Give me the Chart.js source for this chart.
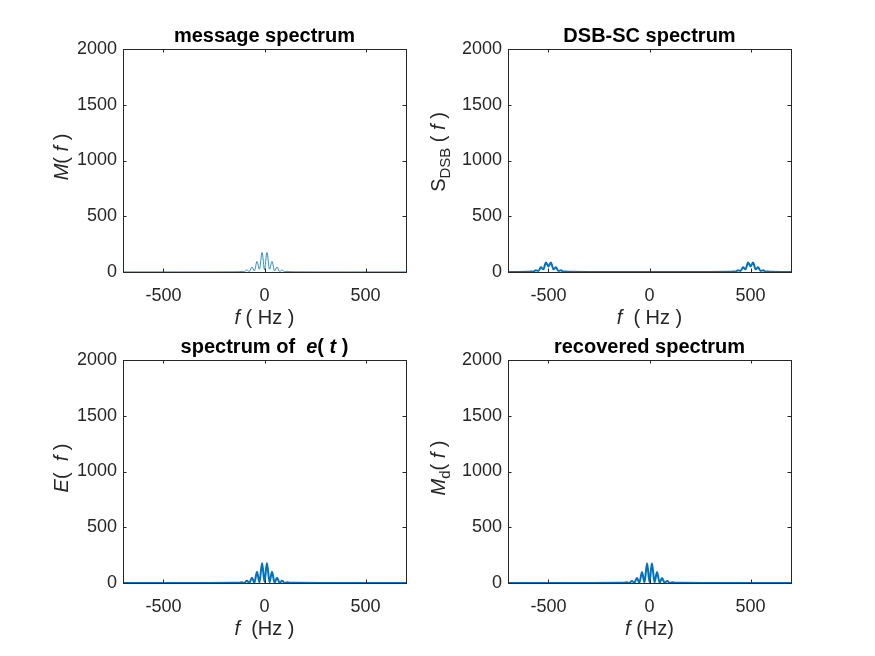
<!DOCTYPE html>
<html>
<head>
<meta charset="utf-8">
<script src="https://cdn.jsdelivr.net/npm/chart.js@4.4.1/dist/chart.umd.min.js"></script>
<style>
  html, body { margin: 0; padding: 0; background: #fff; width: 875px; height: 656px; overflow: hidden; }
  .pane { position: absolute; width: 437px; height: 328px; }
</style>
</head>
<body>
<div class="pane" style="left:0px;top:0px"><canvas id="msg" width="437" height="328"></canvas></div>
<div class="pane" style="left:385px;top:0px"><canvas id="dsb" width="437" height="328"></canvas></div>
<div class="pane" style="left:0px;top:311px"><canvas id="eSpec" width="437" height="328"></canvas></div>
<div class="pane" style="left:385px;top:311px"><canvas id="rec" width="437" height="328"></canvas></div>
<script>
// ---- data ----
const xTicks = [-500, 0, 500];
const yTicks = [0, 500, 1000, 1500, 2000];

// baseband frequency grid (Hz)
const freqBase = [-700, -300, -150, -125, -112, -100, -87, -75, -62, -50, -37, -25, -12, 0,
                  12, 25, 37, 50, 62, 75, 87, 100, 112, 125, 150, 300, 700];
const msgVals = [1, 1, 2, 3, 6, 2, 18, 4, 45, 10, 95, 25, 175, 20,
                 175, 25, 95, 10, 45, 4, 18, 2, 6, 3, 2, 1, 1];
const eVals   = [1, 1, 2, 3, 7, 1, 20, 2, 48, 3, 100, 5, 180, 10,
                 180, 5, 100, 3, 48, 2, 20, 1, 7, 3, 2, 1, 1];
const recVals = [1, 1, 2, 3, 6, 1, 18, 2, 45, 3, 98, 5, 178, 8,
                 178, 5, 98, 3, 45, 2, 18, 1, 6, 3, 2, 1, 1];

// DSB-SC grid (Hz), lobes around +-500
const freqDsb = [-700, -650, -600, -587, -575, -562, -550, -537, -525, -512, -500, -488, -475, -463,
                 -450, -438, -425, -413, -400, -300, 0, 300, 400, 413, 425, 438, 450, 463, 475, 488,
                 500, 512, 525, 537, 550, 562, 575, 587, 600, 650, 700];
const dsbVals = [1, 1, 2, 5, 3, 16, 9, 42, 24, 86, 50, 86, 24, 42,
                 9, 16, 3, 5, 2, 1, 1, 1, 2, 5, 3, 16, 9, 42, 24, 86,
                 50, 86, 24, 42, 9, 16, 3, 5, 2, 1, 1];

const FONT = '"Liberation Sans", Arial, Helvetica, sans-serif';
const AX = '#262626';
const BLUE = '#0072BD';

// draw a run of mixed italic / subscript text centred on (cx, cy)
function drawRuns(ctx, runs, cx, cy, size, bold, rotate, color) {
    ctx.save();
    ctx.translate(cx, cy);
    if (rotate) ctx.rotate(-Math.PI / 2);
    ctx.fillStyle = color;
    ctx.textBaseline = 'middle';
    ctx.textAlign = 'left';
    const fontOf = r => (r.i ? 'italic ' : '') + (bold ? 'bold ' : '') + (r.sub ? size * 0.75 : size) + 'px ' + FONT;
    let total = 0;
    runs.forEach(r => { ctx.font = fontOf(r); total += ctx.measureText(r.t).width; });
    let x = -total / 2;
    runs.forEach(r => {
        ctx.font = fontOf(r);
        ctx.fillText(r.t, x, r.sub ? size * 0.35 : 0);
        x += ctx.measureText(r.t).width;
    });
    ctx.restore();
}

// MATLAB-like box, inward ticks and labels
const framePlugin = {
    id: 'frame',
    afterDatasetsDraw(chart, args, opts) {
        const { ctx, chartArea: a, scales } = chart;
        ctx.save();
        ctx.strokeStyle = AX;
        ctx.lineWidth = 1;
        ctx.beginPath();
        const tl = 3.5;
        xTicks.forEach(v => {
            const px = Math.round(scales.x.getPixelForValue(v)) + 0.5;
            ctx.moveTo(px, a.bottom); ctx.lineTo(px, a.bottom - tl);
            ctx.moveTo(px, a.top); ctx.lineTo(px, a.top + tl);
        });
        yTicks.forEach(v => {
            const py = Math.round(scales.y.getPixelForValue(v)) + 0.5;
            ctx.moveTo(a.left, py); ctx.lineTo(a.left + tl, py);
            ctx.moveTo(a.right, py); ctx.lineTo(a.right - tl, py);
        });
        ctx.stroke();
        ctx.strokeRect(Math.round(a.left) + 0.5, Math.round(a.top) + 0.5,
                       Math.round(a.right - a.left), Math.round(a.bottom - a.top));
        ctx.restore();

        const cx = (a.left + a.right) / 2;
        drawRuns(ctx, opts.title, cx, a.top - 13, 20, true, false, '#000');
        drawRuns(ctx, opts.xLabel, cx, a.bottom + 46, 20, false, false, AX);
        drawRuns(ctx, opts.yLabel, opts.yLabelX, opts.yLabelY, 20, false, true, AX);
    }
};

function makeChart(id, xs, ys, lineWidth, labels) {
    const pts = xs.map((x, i) => ({ x: x, y: ys[i] }));
    return new Chart(document.getElementById(id), {
        type: 'line',
        data: { datasets: [{ data: pts, borderColor: BLUE, borderWidth: lineWidth, pointRadius: 0,
                             fill: false, tension: 0, cubicInterpolationMode: 'monotone' }] },
        options: {
            responsive: false, animation: false, events: [],
            layout: { padding: { left: 0, right: 31, top: 49, bottom: 0 } },
            plugins: { legend: { display: false }, tooltip: { enabled: false }, title: { display: false },
                       frame: labels },
            scales: {
                x: {
                    type: 'linear', min: -700, max: 700,
                    afterBuildTicks: s => { s.ticks = xTicks.map(v => ({ value: v })); },
                    afterFit: s => { s.height = 56; },
                    grid: { display: false, drawTicks: false }, border: { display: false },
                    ticks: { padding: 13, color: AX, maxRotation: 0, font: { family: FONT, size: 18 },
                             callback: v => String(v) }
                },
                y: {
                    type: 'linear', min: 0, max: 2000,
                    afterBuildTicks: s => { s.ticks = yTicks.map(v => ({ value: v })); },
                    afterFit: s => { s.width = 123; },
                    grid: { display: false, drawTicks: false }, border: { display: false },
                    ticks: { padding: 6, color: AX, font: { family: FONT, size: 18 },
                             callback: v => String(v) }
                }
            }
        },
        plugins: [framePlugin]
    });
}

makeChart('msg', freqBase, msgVals, 0.8, {
    title: [{ t: 'message spectrum' }],
    xLabel: [{ t: 'f', i: 1 }, { t: ' ( Hz )' }],
    yLabel: [{ t: 'M', i: 1 }, { t: '( ' }, { t: 'f', i: 1 }, { t: ' )' }],
    yLabelX: 62, yLabelY: 157
});
makeChart('dsb', freqDsb, dsbVals, 2, {
    title: [{ t: 'DSB-SC spectrum' }],
    xLabel: [{ t: 'f', i: 1 }, { t: '  ( Hz )' }],
    yLabel: [{ t: 'S' }, { t: 'DSB', sub: 1 }, { t: ' ( ' }, { t: 'f', i: 1 }, { t: ' )' }],
    yLabelX: 54, yLabelY: 152
});
makeChart('eSpec', freqBase, eVals, 2, {
    title: [{ t: 'spectrum of  ' }, { t: 'e', i: 1 }, { t: '( ' }, { t: 't', i: 1 }, { t: ' )' }],
    xLabel: [{ t: 'f', i: 1 }, { t: '  (Hz )' }],
    yLabel: [{ t: 'E', i: 1 }, { t: '(  ' }, { t: 'f', i: 1 }, { t: ' )' }],
    yLabelX: 62, yLabelY: 157
});
makeChart('rec', freqBase, recVals, 2, {
    title: [{ t: 'recovered spectrum' }],
    xLabel: [{ t: 'f', i: 1 }, { t: ' (Hz)' }],
    yLabel: [{ t: 'M', i: 1 }, { t: 'd', sub: 1 }, { t: '( ' }, { t: 'f', i: 1 }, { t: ' )' }],
    yLabelX: 54, yLabelY: 157
});
</script>
</body>
</html>
